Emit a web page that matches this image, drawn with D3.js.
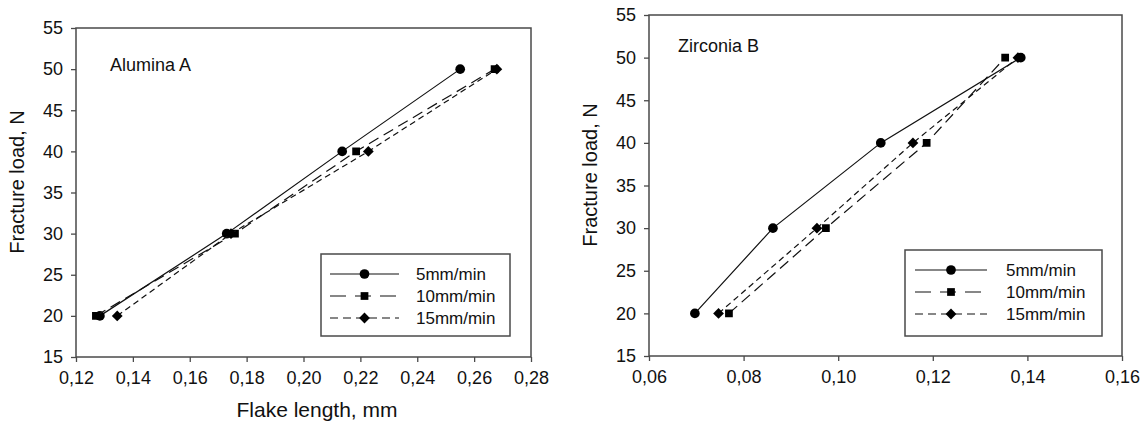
<!DOCTYPE html>
<html>
<head>
<meta charset="utf-8">
<script src="https://cdn.jsdelivr.net/npm/d3@7"></script>
<style>
  body { margin: 0; background: #fff; }
  text { font-family: "Liberation Sans", Arial, sans-serif; fill: #111; }
</style>
</head>
<body>
<script>
// Data
const loads = [20, 30, 40, 50];
const seriesNames = ["5mm/min", "10mm/min", "15mm/min"];

const aluminaA_5 = [0.1284, 0.1730, 0.2136, 0.2551];
const aluminaA_10 = [0.1270, 0.1759, 0.2185, 0.2672];
const aluminaA_15 = [0.1345, 0.1745, 0.2228, 0.2680];

const zirconiaB_5 = [0.0697, 0.0862, 0.1090, 0.1386];
const zirconiaB_10 = [0.0769, 0.0974, 0.1187, 0.1353];
const zirconiaB_15 = [0.0747, 0.0955, 0.1158, 0.1380];

const yTicks = [15, 20, 25, 30, 35, 40, 45, 50, 55];
const xTicksA = [0.12, 0.14, 0.16, 0.18, 0.20, 0.22, 0.24, 0.26, 0.28];
const xTicksB = [0.06, 0.08, 0.10, 0.12, 0.14, 0.16];

// diamond = square turned by 45 degrees
const seriesStyle = [
    {dash: null, legendDash: null, symbol: d3.symbolCircle, size: 74, rot: 0},
    {dash: "11,6", legendDash: "16,9", symbol: d3.symbolSquare, size: 60, rot: 0},
    {dash: "6,4", legendDash: "8,5", symbol: d3.symbolSquare, size: 58, rot: 45}
];

let svg = d3.select("body").append("svg")
    .attr("width", 1145)
    .attr("height", 425);

// Main Process
drawPanel({
    left: 76, right: 531, top: 28, bottom: 357,
    xDomain: [0.12, 0.28], xTicks: xTicksA,
    series: [aluminaA_5, aluminaA_10, aluminaA_15],
    label: "Alumina A", labelPos: [110, 71],
    yTitle: [24, 182], xTitle: "Flake length, mm",
    legend: {x: 321, y: 254, w: 189, h: 82, lineX0: 330, lineX1: 399, textX: 416}
});

drawPanel({
    left: 649, right: 1122, top: 15, bottom: 356,
    xDomain: [0.06, 0.16], xTicks: xTicksB,
    series: [zirconiaB_5, zirconiaB_10, zirconiaB_15],
    label: "Zirconia B", labelPos: [678, 52],
    yTitle: [597, 175], xTitle: null,
    legend: {x: 905, y: 250, w: 197, h: 86, lineX0: 915, lineX1: 987, textX: 1006}
});

function drawPanel(p) {
    let x = d3.scaleLinear().domain(p.xDomain).range([p.left, p.right]);
    let y = d3.scaleLinear().domain([15, 55]).range([p.bottom, p.top]);
    let fmt = d => d3.format(".2f")(d).replace(".", ",");

    let g = svg.append("g");

    // frame
    g.append("rect")
        .attr("x", p.left).attr("y", p.top)
        .attr("width", p.right - p.left).attr("height", p.bottom - p.top)
        .attr("fill", "none")
        .attr("stroke", "#4a4a4a")
        .attr("stroke-width", 1.5);

    // axes
    let xAxis = g.append("g")
        .attr("transform", `translate(0, ${p.bottom})`)
        .call(d3.axisBottom(x).tickValues(p.xTicks).tickFormat(fmt).tickSize(5).tickPadding(9));
    let yAxis = g.append("g")
        .attr("transform", `translate(${p.left}, 0)`)
        .call(d3.axisLeft(y).tickValues(yTicks).tickSize(5).tickPadding(8));

    [xAxis, yAxis].forEach(a => {
        a.select(".domain").remove();
        a.selectAll("line").attr("stroke", "#4a4a4a").attr("stroke-width", 1.3);
        a.selectAll("text")
            .style("font-family", '"Liberation Sans", Arial, sans-serif')
            .style("font-size", "18px")
            .attr("fill", "#111");
    });

    // titles
    g.append("text")
        .attr("transform", `translate(${p.yTitle[0]}, ${p.yTitle[1]}) rotate(-90)`)
        .attr("text-anchor", "middle")
        .style("font-size", "20px")
        .text("Fracture load, N");

    if (p.xTitle) {
        g.append("text")
            .attr("x", 317).attr("y", 417)
            .attr("text-anchor", "middle")
            .style("font-size", "21px")
            .text(p.xTitle);
    }

    g.append("text")
        .attr("x", p.labelPos[0]).attr("y", p.labelPos[1])
        .style("font-size", "18px")
        .text(p.label);

    // series lines and markers
    let line = d3.line().x(d => x(d[0])).y(d => y(d[1]));
    p.series.forEach((vals, i) => {
        let pts = vals.map((v, j) => [v, loads[j]]);
        let st = seriesStyle[i];
        g.append("path")
            .datum(pts)
            .attr("d", line)
            .attr("fill", "none")
            .attr("stroke", "#111")
            .attr("stroke-width", 1.2)
            .attr("stroke-dasharray", st.dash);
        g.selectAll(null).data(pts).enter().append("path")
            .attr("transform", d => `translate(${x(d[0])}, ${y(d[1])}) rotate(${st.rot})`)
            .attr("d", d3.symbol().type(st.symbol).size(st.size))
            .attr("fill", "#000");
    });

    // legend
    let L = p.legend;
    g.append("rect")
        .attr("x", L.x).attr("y", L.y).attr("width", L.w).attr("height", L.h)
        .attr("fill", "#fff")
        .attr("stroke", "#4a4a4a")
        .attr("stroke-width", 1.5);
    seriesNames.forEach((name, i) => {
        let cy = L.y + 20 + i * 22;
        let st = seriesStyle[i];
        g.append("line")
            .attr("x1", L.lineX0).attr("x2", L.lineX1)
            .attr("y1", cy).attr("y2", cy)
            .attr("stroke", "#111").attr("stroke-width", 1.2)
            .attr("stroke-dasharray", st.legendDash);
        g.append("path")
            .attr("transform", `translate(${(L.lineX0 + L.lineX1) / 2}, ${cy}) rotate(${st.rot})`)
            .attr("d", d3.symbol().type(st.symbol).size(st.size))
            .attr("fill", "#000");
        g.append("text")
            .attr("x", L.textX).attr("y", cy + 6)
            .style("font-size", "17px")
            .text(name);
    });
}
</script>
</body>
</html>
